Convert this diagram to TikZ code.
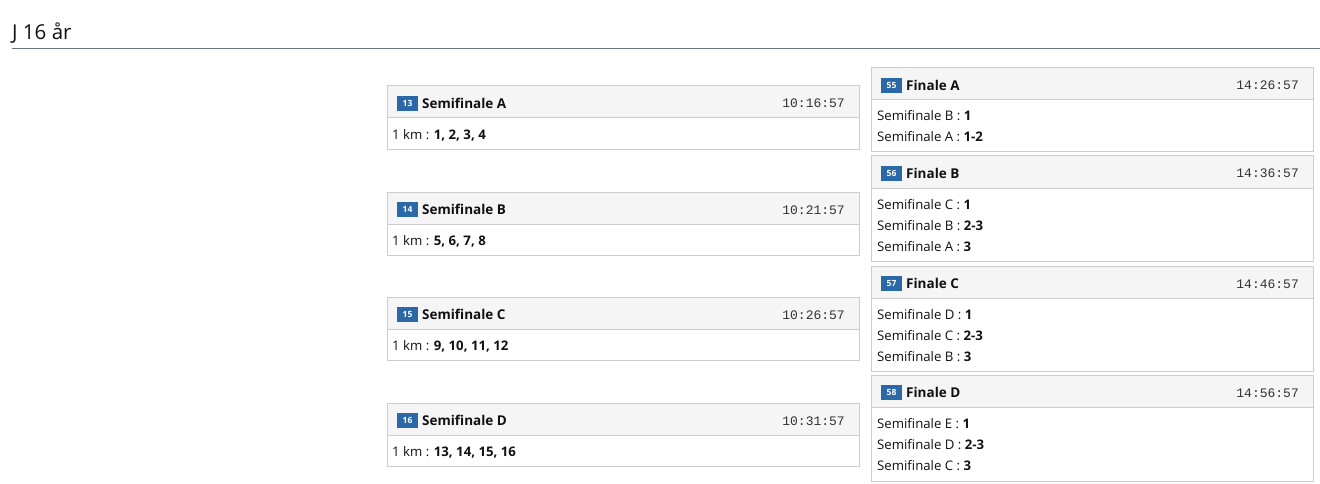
\documentclass[tikz,border=0pt]{standalone}
\usepackage{fontspec}
\setmainfont{Open Sans}
\newfontfamily\monof{Liberation Mono}
\definecolor{headbg}{HTML}{F5F5F5}
\definecolor{boxln}{HTML}{CCCCCC}
\definecolor{badgebl}{HTML}{2B68A8}
\definecolor{rulec}{HTML}{6C757D}
\definecolor{txt}{HTML}{111111}
\definecolor{tmc}{HTML}{333333}
\tikzset{
  boxline/.style={draw=boxln, line width=1pt},
  badge/.style={fill=badgebl, text=white, minimum width=21pt, minimum height=15pt, inner sep=0pt, font=\fontsize{8.5}{9}\selectfont\bfseries},
  ttl/.style={anchor=base west, inner sep=0pt, text=txt, font=\fontsize{13.5}{15}\selectfont\bfseries},
  tm/.style={anchor=base east, inner sep=0pt, text=tmc, font=\fontsize{13}{15}\selectfont\monof},
  body/.style={anchor=base west, inner sep=0pt, text=txt, font=\fontsize{13.2}{15}\selectfont},
}
% #1 name, #2 xl, #3 xr, #4 yt, #5 yb, #6 num, #7 title, #8 time
\newcommand\racebox[8]{%
  \fill[headbg] (#2,#4) rectangle (#3,#4+32);
  \draw[boxline] (#2,#4) rectangle (#3,#5);
  \draw[boxline] (#2,#4+32) -- (#3,#4+32);
  \node[badge] (#1-n) at (#2+20.5,#4+17.5) {#6};
  \node[ttl] (#1-t) at (#2+35,#4+22.5) {#7};
  \node[tm] (#1-time) at (#3-14,#4+22) {#8};
}
\begin{document}
\begin{tikzpicture}[x=1pt,y=-1pt]
\fill[white] (0,0) rectangle (1320,484);
\useasboundingbox (0,0) rectangle (1320,484);
\node[anchor=base west, inner sep=0pt, text=txt, font=\fontsize{20.5}{22}\selectfont] (title) at (12,40) {J 16 år};
\draw[rulec, line width=1pt] (12,49) -- (1320,49);

\racebox{sa}{387}{859}{86}{150}{13}{Semifinale A}{10:16:57}
\node[body] (sa-b) at (392,140) {1 km : \textbf{1, 2, 3, 4}};
\racebox{sb}{387}{859}{192}{255}{14}{Semifinale B}{10:21:57}
\node[body] (sb-b) at (392,245) {1 km : \textbf{5, 6, 7, 8}};
\racebox{sc}{387}{859}{297}{360}{15}{Semifinale C}{10:26:57}
\node[body] (sc-b) at (392,350) {1 km : \textbf{9, 10, 11, 12}};
\racebox{sd}{387}{859}{403}{466}{16}{Semifinale D}{10:31:57}
\node[body] (sd-b) at (392,456) {1 km : \textbf{13, 14, 15, 16}};

\racebox{fa}{871}{1313}{68}{152}{55}{Finale A}{14:26:57}
\node[body] (fa-1) at (877,121) {Semifinale B : \textbf{1}};
\node[body] (fa-2) at (877,142) {Semifinale A : \textbf{1-2}};
\racebox{fb}{871}{1313}{156}{261}{56}{Finale B}{14:36:57}
\node[body] (fb-1) at (877,209) {Semifinale C : \textbf{1}};
\node[body] (fb-2) at (877,230) {Semifinale B : \textbf{2-3}};
\node[body] (fb-3) at (877,251) {Semifinale A : \textbf{3}};
\racebox{fc}{871}{1313}{266}{371}{57}{Finale C}{14:46:57}
\node[body] (fc-1) at (877,319) {Semifinale D : \textbf{1}};
\node[body] (fc-2) at (877,340) {Semifinale C : \textbf{2-3}};
\node[body] (fc-3) at (877,361) {Semifinale B : \textbf{3}};
\racebox{fd}{871}{1313}{375}{481}{58}{Finale D}{14:56:57}
\node[body] (fd-1) at (877,428) {Semifinale E : \textbf{1}};
\node[body] (fd-2) at (877,449) {Semifinale D : \textbf{2-3}};
\node[body] (fd-3) at (877,470) {Semifinale C : \textbf{3}};
\end{tikzpicture}
\end{document}
